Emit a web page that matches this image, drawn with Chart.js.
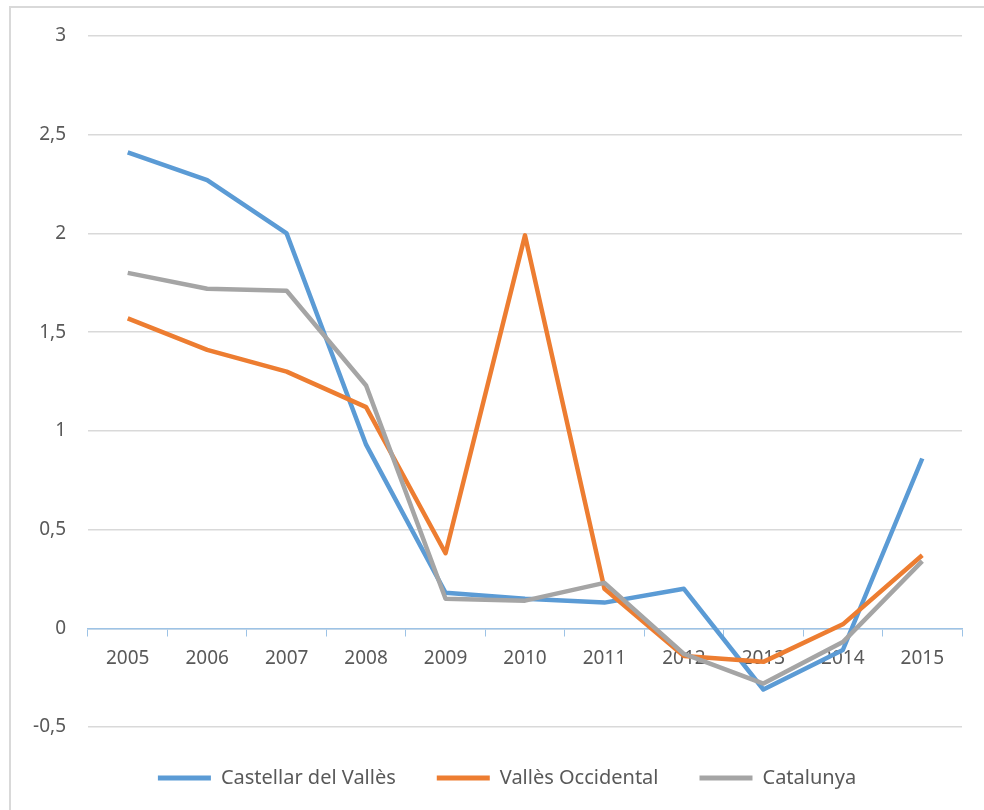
<!DOCTYPE html>
<html>
<head>
<meta charset="utf-8">
<script src="https://cdn.jsdelivr.net/npm/chart.js@4"></script>
<style>
    html, body { margin: 0; padding: 0; background: #fff; overflow: hidden; }
    #frame { position: absolute; left: 9px; top: 6px; width: 1000px; height: 830px; border: 2px solid #d9d9d9; }
    #wrap { position: absolute; left: 0; top: 0; width: 984px; height: 810px; }
</style>
</head>
<body>
<div id="frame"></div>
<div id="wrap"><canvas id="chart"></canvas></div>
<script>
// --- Data ---
const years = ['2005', '2006', '2007', '2008', '2009', '2010', '2011', '2012', '2013', '2014', '2015'];
const castellar = [2.41, 2.27, 2.0, 0.93, 0.18, 0.15, 0.13, 0.20, -0.31, -0.11, 0.86];
const vallesOcc = [1.57, 1.41, 1.30, 1.12, 0.38, 1.99, 0.20, -0.14, -0.17, 0.02, 0.37];
const catalunya = [1.80, 1.72, 1.71, 1.23, 0.15, 0.14, 0.23, -0.13, -0.28, -0.07, 0.34];

const textColor = '#595959';
const fontFamily = '"Noto Sans", sans-serif';

// legend is centred a bit right of the canvas middle in the original
const shiftLegend = {
    id: 'shiftLegend',
    afterLayout(chart) {
        if (chart.legend) {
            chart.legend.left += 26;
            chart.legend.right += 26;
        }
    }
};

new Chart(document.getElementById('chart'), {
    type: 'line',
    data: {
        labels: years,
        datasets: [
            { label: 'Castellar del Vallès', data: castellar, borderColor: '#5b9bd5', backgroundColor: '#5b9bd5', order: 2 },
            { label: 'Vallès Occidental', data: vallesOcc, borderColor: '#ed7d31', backgroundColor: '#ed7d31', order: 1 },
            { label: 'Catalunya', data: catalunya, borderColor: '#a5a5a5', backgroundColor: '#a5a5a5', order: 0 }
        ]
    },
    plugins: [shiftLegend],
    options: {
        responsive: true,
        maintainAspectRatio: false,
        animation: false,
        elements: {
            line: { borderWidth: 4.5, tension: 0, borderJoinStyle: 'round' },
            point: { radius: 0 }
        },
        layout: { padding: { left: 0, right: 22, top: 36, bottom: 12 } },
        plugins: {
            tooltip: { enabled: false },
            legend: {
                position: 'bottom',
                labels: {
                    color: textColor,
                    font: { family: fontFamily, size: 20 },
                    boxWidth: 53,
                    boxHeight: 5,
                    padding: 41,
                    sort: (a, b) => a.datasetIndex - b.datasetIndex,
                    generateLabels: (chart) => {
                        const items = Chart.defaults.plugins.legend.labels.generateLabels(chart);
                        items.forEach(it => { it.lineWidth = 0; });
                        return items;
                    }
                }
            }
        },
        scales: {
            x: {
                offset: true,
                position: { y: 0 },
                afterFit: (s) => { s.height = 0; },
                border: { color: '#9dc3e6', width: 1.5 },
                grid: { drawOnChartArea: false, drawTicks: true, tickLength: 7, color: '#9dc3e6', offset: true },
                ticks: { color: textColor, font: { family: fontFamily, size: 19 }, padding: 12, maxRotation: 0 }
            },
            y: {
                min: -0.5,
                max: 3,
                afterFit: (s) => { s.width = 88; },
                border: { display: false },
                grid: { color: '#d9d9d9', lineWidth: 1.5, drawTicks: false },
                ticks: {
                    stepSize: 0.5,
                    color: textColor,
                    font: { family: fontFamily, size: 19 },
                    padding: 22,
                    callback: (v) => String(v).replace('.', ',')
                }
            }
        }
    }
});
</script>
</body>
</html>
